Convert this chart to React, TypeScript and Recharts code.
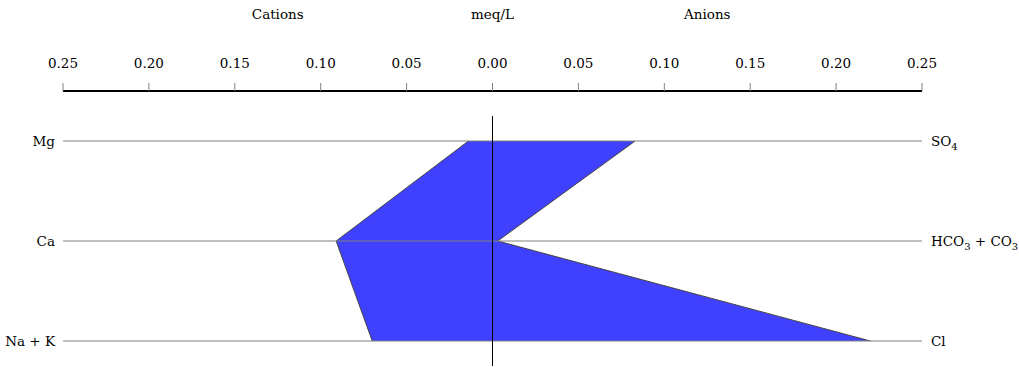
import React from 'react';
import {
  ComposedChart,
  Area,
  XAxis,
  YAxis,
  ReferenceLine,
} from 'recharts';

// Stiff diagram values (meq/L)
const cationNames = ['Mg', 'Ca', 'Na + K'];
const anionNames = [
  [['SO', ''], ['4', 'sub']],
  [['HCO', ''], ['3', 'sub'], [' + CO', ''], ['3', 'sub']],
  [['Cl', '']],
];
const cationValues = [0.014, 0.091, 0.07];
const anionValues = [0.083, 0.003, 0.22];
const xTicks = [-0.25, -0.2, -0.15, -0.1, -0.05, 0, 0.05, 0.1, 0.15, 0.2, 0.25];
const rows = [0, 1, 2];
const headers = [
  { label: 'Cations', at: -0.125 },
  { label: 'meq/L', at: 0 },
  { label: 'Anions', at: 0.125 },
];

const data = rows.map((row) => ({
  row,
  range: [-cationValues[row], anionValues[row]],
}));

const WIDTH = 1019;
const HEIGHT = 367;
const LEFT_W = 63;
const RIGHT_W = 97;
const FONT = '"DejaVu Serif", serif';
const FS = 13.5;

// plot x-range for placing the header captions
const plotLeft = LEFT_W;
const plotRight = WIDTH - RIGHT_W;
const xPos = (v: number) => plotLeft + ((v + 0.25) / 0.5) * (plotRight - plotLeft);

const AnionTick = ({ x, y, payload }: any) => {
  const parts = anionNames[payload.value] || [];
  return (
    <text x={x} y={y + 5} textAnchor="start" fontFamily={FONT} fontSize={FS} fill="#000">
      {parts.map(([t, kind], i) => {
        const prevSub = i > 0 && parts[i - 1][1] === 'sub';
        const dy = kind === 'sub' ? 4 : prevSub ? -4 : 0;
        return (
          <tspan key={i} dy={dy} fontSize={kind === 'sub' ? 10 : FS}>
            {t}
          </tspan>
        );
      })}
    </text>
  );
};

export default function App() {
  return (
    <div style={{ position: 'absolute', left: 0, top: 0, width: WIDTH, height: HEIGHT, background: '#fff' }}>
      {headers.map((h) => (
        <div
          key={h.label}
          style={{
            position: 'absolute',
            top: 6,
            left: xPos(h.at),
            transform: 'translateX(-50%)',
            fontFamily: FONT,
            fontSize: FS,
            lineHeight: '16px',
            color: '#000',
            whiteSpace: 'nowrap',
          }}
        >
          {h.label}
        </div>
      ))}
      <ComposedChart
        width={WIDTH}
        height={HEIGHT}
        data={data}
        layout="vertical"
        margin={{ top: 61, right: 0, bottom: 1, left: 0 }}
        style={{ position: 'absolute', left: 0, top: 0 }}
      >
        <XAxis
          type="number"
          orientation="top"
          domain={[-0.25, 0.25]}
          ticks={xTicks}
          allowDataOverflow
          height={30}
          tickSize={8}
          tickMargin={15}
          tickFormatter={(v: number) => Math.abs(v).toFixed(2)}
          axisLine={{ stroke: '#000', strokeWidth: 2 }}
          tickLine={{ stroke: '#808080' }}
          tick={{ fill: '#000', fontFamily: FONT, fontSize: FS }}
        />
        <YAxis
          type="number"
          dataKey="row"
          domain={[-0.5, 2.25]}
          ticks={rows}
          width={LEFT_W}
          axisLine={false}
          tickLine={false}
          tickSize={6}
          tickFormatter={(v: number) => cationNames[v]}
          tick={{ fill: '#000', fontFamily: FONT, fontSize: FS }}
        />
        <YAxis
          yAxisId="r"
          type="number"
          dataKey="row"
          orientation="right"
          domain={[-0.5, 2.25]}
          ticks={rows}
          width={RIGHT_W}
          axisLine={false}
          tickLine={false}
          tickSize={7}
          tick={<AnionTick />}
        />
        <Area
          type="linear"
          dataKey="range"
          fill="#4040ff"
          fillOpacity={1}
          stroke="#444"
          strokeWidth={1}
          isAnimationActive={false}
          dot={false}
          activeDot={false}
        />
        {rows.map((r) => (
          <ReferenceLine key={r} y={r} stroke="#808080" strokeWidth={1} />
        ))}
        <ReferenceLine
          segment={[
            { x: 0, y: -0.25 },
            { x: 0, y: 2.25 },
          ]}
          stroke="#000"
          strokeWidth={1}
        />
      </ComposedChart>
    </div>
  );
}
